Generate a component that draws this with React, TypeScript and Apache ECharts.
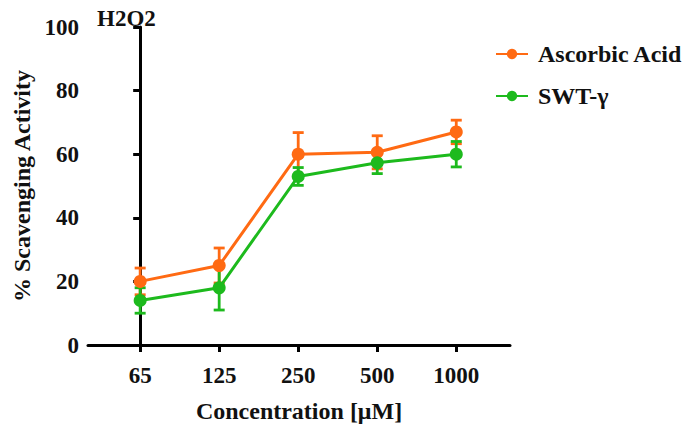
import React, { useEffect, useRef } from "react";
import * as echarts from "echarts";

const categories = ["65", "125", "250", "500", "1000"];
const ascorbicMean = [20, 25, 60, 60.6, 67];
const ascorbicErr = [4.2, 5.5, 6.8, 5.2, 3.7];
const swtMean = [14, 18, 53, 57.3, 60];
const swtErr = [4, 7, 2.8, 3.4, 4];

const ORANGE = "#FF6A13";
const GREEN = "#1DBA1D";
const FONT = "'Liberation Serif', 'Times New Roman', serif";

function errorSeries(id: string, mean: number[], err: number[], color: string) {
  const data = mean.map((m, i) => [i, m - err[i], m + err[i]]);
  return {
    type: "custom",
    id,
    z: 1,
    data,
    renderItem: (params: any, api: any) => {
      const x = api.value(0);
      const lo = api.coord([x, api.value(1)]);
      const hi = api.coord([x, api.value(2)]);
      const w = 5.5;
      const style = { stroke: color, lineWidth: 2.8 };
      return {
        type: "group",
        children: [
          { type: "line", shape: { x1: lo[0], y1: lo[1], x2: hi[0], y2: hi[1] }, style },
          { type: "line", shape: { x1: lo[0] - w, y1: lo[1], x2: lo[0] + w, y2: lo[1] }, style },
          { type: "line", shape: { x1: hi[0] - w, y1: hi[1], x2: hi[0] + w, y2: hi[1] }, style },
        ],
      };
    },
  };
}

export default function App() {
  const ref = useRef<HTMLDivElement>(null);
  useEffect(() => {
    if (!ref.current) return;
    const chart = echarts.init(ref.current, null, { renderer: "svg" });
    const idx = categories.map((_, i) => i);
    const bold = { fontFamily: FONT, fontWeight: "bold" as const, color: "#111" };
    chart.setOption({
      animation: false,
      backgroundColor: "#fff",
      textStyle: { fontFamily: FONT },
      title: {
        text: "H2O2",
        left: 92,
        top: 2,
        textStyle: { ...bold, fontSize: 23 },
      },
      legend: {
        orient: "vertical",
        left: 490,
        top: 37,
        itemWidth: 32,
        itemHeight: 13,
        itemGap: 18,
        data: ["Ascorbic Acid", "SWT-γ"],
        textStyle: { ...bold, fontSize: 24, padding: [0, 0, 0, 5] },
      },
      grid: { left: 88, top: 27, right: 178, bottom: 83 },
      xAxis: {
        type: "value",
        min: -0.66,
        max: 4.68,
        splitLine: { show: false },
        axisLine: { lineStyle: { color: "#000", width: 3 } },
        axisTick: { show: true, length: 7, lineStyle: { color: "#000", width: 3 }, customValues: idx },
        axisLabel: {
          customValues: idx,
          formatter: (v: number) => categories[Math.round(v)] ?? "",
          ...bold,
          fontSize: 23,
          margin: 19,
        },
        name: "Concentration [μM]",
        nameLocation: "middle",
        nameGap: 54,
        nameTextStyle: { ...bold, fontSize: 24 },
      },
      yAxis: {
        type: "value",
        min: 0,
        max: 100,
        interval: 20,
        splitLine: { show: false },
        axisLine: { show: true, lineStyle: { color: "#000", width: 3 } },
        axisTick: { show: true, length: 7, lineStyle: { color: "#000", width: 3 } },
        axisLabel: { ...bold, fontSize: 23, margin: 9 },
        name: "% Scavenging Activity",
        nameLocation: "middle",
        nameGap: 54,
        nameTextStyle: { ...bold, fontSize: 24 },
      },
      series: [
        errorSeries("ascorbic-err", ascorbicMean, ascorbicErr, ORANGE),
        errorSeries("swt-err", swtMean, swtErr, GREEN),
        {
          type: "line",
          name: "Ascorbic Acid",
          z: 3,
          data: ascorbicMean.map((v, i) => [i, v]),
          symbol: "circle",
          symbolSize: 13,
          itemStyle: { color: ORANGE },
          lineStyle: { color: ORANGE, width: 3 },
        },
        {
          type: "line",
          name: "SWT-γ",
          z: 3,
          data: swtMean.map((v, i) => [i, v]),
          symbol: "circle",
          symbolSize: 13,
          itemStyle: { color: GREEN },
          lineStyle: { color: GREEN, width: 3 },
        },
      ],
    });
    return () => chart.dispose();
  }, []);
  return (
    <div
      ref={ref}
      style={{ position: "fixed", left: 0, top: 0, width: 688, height: 428 }}
    />
  );
}
